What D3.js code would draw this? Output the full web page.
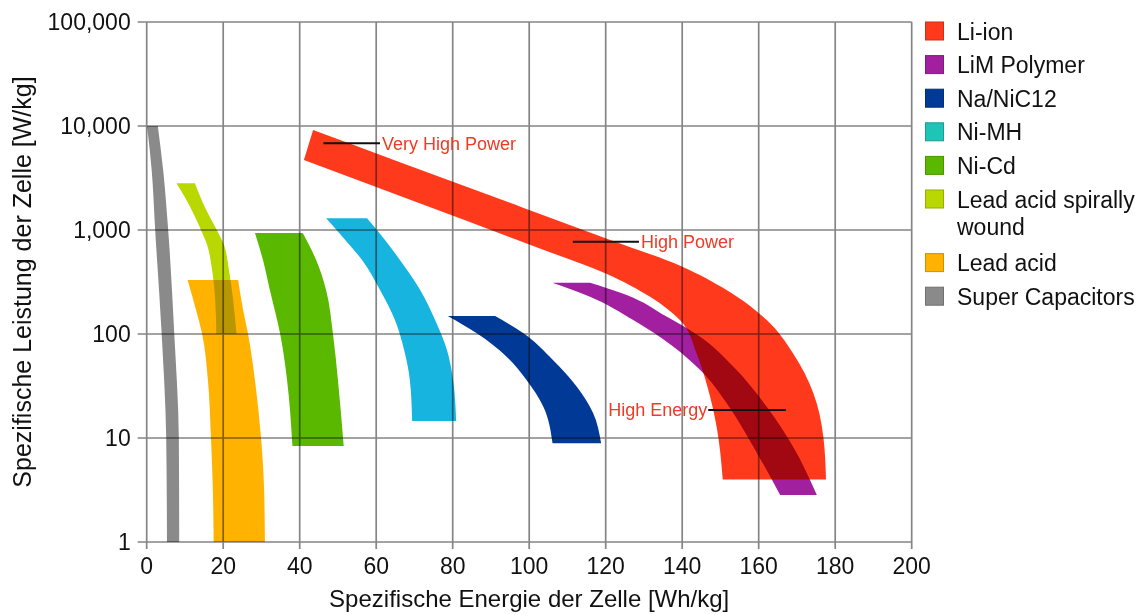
<!DOCTYPE html>
<html>
<head>
<meta charset="utf-8">
<script src="https://cdn.jsdelivr.net/npm/d3@7"></script>
<style>
  html, body { margin: 0; padding: 0; background: #ffffff; }
  svg { display: block; font-family: "Liberation Sans", Arial, Helvetica, sans-serif; }
</style>
</head>
<body>
<svg id="chart" width="1148" height="614"></svg>
<script>
// ---------------- data ----------------
// Ragone plot: specific energy [Wh/kg] vs. specific power [W/kg] per cell chemistry.
// Each technology is a band bounded by a low-energy edge and a high-energy edge,
// given as [energy, power] pairs ordered from the top of the band to its bottom.
const categories = ["Li-ion", "LiM Polymer", "Na/NiC12", "Ni-MH", "Ni-Cd",
                    "Lead acid spirally wound", "Lead acid", "Super Capacitors"];
const bandColors = ["#ff3a1c", "#a21fa0", "#003a96", "#18b4e0", "#5bb800",
                    "#b9d700", "#ffb300", "#8a8a8a"];
const legendColors = ["#ff3a1c", "#a21fa0", "#003a96", "#1ec4b6", "#5bb800",
                      "#b9d700", "#ffb300", "#8a8a8a"];

const energyTicks = [0, 20, 40, 60, 80, 100, 120, 140, 160, 180, 200];
const powerTicks = [1, 10, 100, 1000, 10000, 100000];

const liIonLow   = [[41.1, 4710], [71.5, 1798], [102.8, 664], [120.3, 378], [131.6, 228],
                    [139.4, 136], [143.9, 62.8], [146.6, 31.1], [149.0, 12.85], [150.6, 4.0]];
const liIonHigh  = [[43.5, 9152], [66.2, 4487], [98.4, 1639], [120.3, 825], [139.9, 446],
                    [151.6, 265], [162.1, 136], [169.0, 65], [174.3, 27], [176.9, 10.3], [177.6, 4.0]];

const limPolyLow  = [[106.1, 311], [115.9, 228], [127.2, 136], [137.7, 75.5], [144.7, 45],
                     [152.3, 19.9], [158.6, 8.25], [165.6, 2.83]];
const limPolyHigh = [[115.9, 311], [125.5, 237], [135.9, 147], [144.7, 94], [153.4, 48.5],
                     [162.1, 20], [169.0, 8.25], [175.2, 2.83]];

const naNiLow  = [[78.7, 149], [86.3, 101.6], [94.1, 60.5], [99.3, 36.1], [103.7, 20.0], [106.1, 8.9]];
const naNiHigh = [[91.1, 149], [98.4, 102], [106.2, 56.2], [112.5, 30.9], [116.7, 17.4], [118.8, 8.9]];

const niMhLow  = [[46.9, 1296], [51.9, 801], [56.3, 515], [61.0, 265], [64.9, 136],
                  [67.3, 70], [68.8, 36], [69.4, 14.6]];
const niMhHigh = [[57.6, 1296], [62.3, 801], [66.2, 515], [71.5, 265], [75.4, 136],
                  [78.5, 70], [80.1, 36], [80.9, 14.6]];

const niCdLow  = [[28.3, 935], [30.4, 515], [32.2, 265], [34.9, 100], [36.7, 36], [38.1, 8.4]];
const niCdHigh = [[40.8, 935], [44.3, 515], [46.9, 265], [48.7, 100], [50.0, 36], [51.5, 8.4]];

const leadSpiralLow  = [[7.8, 2810], [11.5, 1630], [14.0, 1040], [15.8, 717], [17.1, 412],
                        [17.9, 212], [18.2, 100]];
const leadSpiralHigh = [[12.6, 2810], [15.3, 1630], [18.1, 1040], [20.2, 717], [21.5, 412],
                        [22.6, 212], [23.5, 100]];

const leadAcidLow  = [[10.7, 330], [12.9, 170], [14.5, 100], [16.0, 36], [16.8, 10], [17.3, 3.16], [17.5, 1]];
const leadAcidHigh = [[23.9, 330], [25.2, 170], [26.5, 100], [28.3, 36], [29.9, 10], [30.7, 3.16], [30.9, 1]];

const superCapLow  = [[0.1, 10000], [1.3, 3780], [2.2, 1020], [3.9, 102], [5.1, 10], [5.3, 1]];
const superCapHigh = [[2.9, 10000], [4.3, 3780], [5.6, 1020], [7.2, 102], [8.4, 10], [8.5, 1]];

const bandEdges = [
  [liIonLow, liIonHigh], [limPolyLow, limPolyHigh], [naNiLow, naNiHigh], [niMhLow, niMhHigh],
  [niCdLow, niCdHigh], [leadSpiralLow, leadSpiralHigh], [leadAcidLow, leadAcidHigh],
  [superCapLow, superCapHigh]
];

// Callout labels: a short leader line between two [energy, power] points.
const calloutLabels = ["Very High Power", "High Power", "High Energy"];
const calloutFrom   = [[46.2, 6820], [111.4, 772], [146.8, 18.6]];
const calloutTo     = [[61.0, 6820], [128.7, 772], [167.1, 18.6]];
const calloutSide   = ["end", "end", "start"];

// ---------------- layout ----------------
const svg = d3.select("#chart");
const plot = { left: 146.7, right: 911.7, top: 22, bottom: 542 };

const x = d3.scaleLinear().domain([0, 200]).range([plot.left, plot.right]);
const y = d3.scaleLog().domain([1, 100000]).range([plot.bottom, plot.top]);

svg.append("rect").attr("width", 1148).attr("height", 614).attr("fill", "#ffffff");

// grid
const gridColor = "#858585";
const grid = svg.append("g");
grid.selectAll("line.v").data(energyTicks).join("line")
  .attr("x1", d => x(d)).attr("x2", d => x(d))
  .attr("y1", plot.top).attr("y2", plot.bottom + 7)
  .attr("stroke", gridColor).attr("stroke-width", 1.7);
grid.selectAll("line.h").data(powerTicks).join("line")
  .attr("x1", plot.left - 9).attr("x2", plot.right)
  .attr("y1", d => y(d)).attr("y2", d => y(d))
  .attr("stroke", gridColor).attr("stroke-width", 1.7);

// bands: each edge is a smooth spline, monotone in the vertical direction
const edge = d3.line()
  .x(d => x(d[0])).y(d => y(d[1]))
  .curve(d3.curveMonotoneY);
function bandPath(low, high) {
  const a = edge(low);
  const b = edge(high.slice().reverse());
  return a + "L" + b.slice(1) + "Z";
}
svg.append("g").selectAll("path").data(bandEdges).join("path")
  .attr("d", d => bandPath(d[0], d[1]))
  .attr("fill", (d, i) => bandColors[i])
  .style("mix-blend-mode", "multiply");

// axis tick labels
svg.append("g").selectAll("text").data(powerTicks).join("text")
  .attr("x", plot.left - 16).attr("y", d => y(d))
  .attr("dy", "0.36em")
  .attr("text-anchor", "end")
  .attr("font-size", 23).attr("fill", "#111")
  .text(d => d3.format(",")(d));

svg.append("g").selectAll("text").data(energyTicks).join("text")
  .attr("x", d => x(d)).attr("y", 566)
  .attr("dy", "0.36em")
  .attr("text-anchor", "middle")
  .attr("font-size", 23).attr("fill", "#111")
  .text(d => d);

// axis titles
svg.append("text")
  .attr("x", (plot.left + plot.right) / 2).attr("y", 607)
  .attr("text-anchor", "middle")
  .attr("font-size", 24).attr("fill", "#111")
  .text("Spezifische Energie der Zelle [Wh/kg]");

svg.append("text")
  .attr("transform", `translate(31,${(plot.top + plot.bottom) / 2}) rotate(-90)`)
  .attr("text-anchor", "middle")
  .attr("font-size", 25).attr("fill", "#111")
  .text("Spezifische Leistung der Zelle [W/kg]");

// callouts
const callouts = svg.append("g");
calloutLabels.forEach((label, i) => {
  const p0 = calloutFrom[i], p1 = calloutTo[i];
  callouts.append("line")
    .attr("x1", x(p0[0])).attr("x2", x(p1[0]))
    .attr("y1", y(p0[1])).attr("y2", y(p1[1]))
    .attr("stroke", "#111").attr("stroke-width", 2);
  const anchorAtEnd = calloutSide[i] === "end";
  callouts.append("text")
    .attr("x", anchorAtEnd ? x(p1[0]) + 2 : x(p0[0]) - 1)
    .attr("y", y(p0[1]))
    .attr("dy", "0.36em")
    .attr("text-anchor", anchorAtEnd ? "start" : "end")
    .attr("font-size", 18).attr("fill", "#f03a22")
    .text(label);
});

// legend
const legend = svg.append("g");
const legendLines = [["Li-ion"], ["LiM Polymer"], ["Na/NiC12"], ["Ni-MH"], ["Ni-Cd"],
                     ["Lead acid spirally", "wound"], ["Lead acid"], ["Super Capacitors"]];
let baseline = 39.5;
categories.forEach((name, i) => {
  legend.append("rect")
    .attr("x", 925.5).attr("y", baseline - 17.5)
    .attr("width", 18).attr("height", 18)
    .attr("fill", legendColors[i])
    .attr("stroke", d3.color(legendColors[i]).darker(0.6))
    .attr("stroke-width", 1);
  const t = legend.append("text")
    .attr("x", 957).attr("y", baseline)
    .attr("font-size", 23).attr("fill", "#111");
  legendLines[i].forEach((line, j) => {
    t.append("tspan").attr("x", 957).attr("dy", j === 0 ? 0 : 27).text(line);
  });
  baseline += 33.6 + (legendLines[i].length - 1) * 30;
});
</script>
</body>
</html>
